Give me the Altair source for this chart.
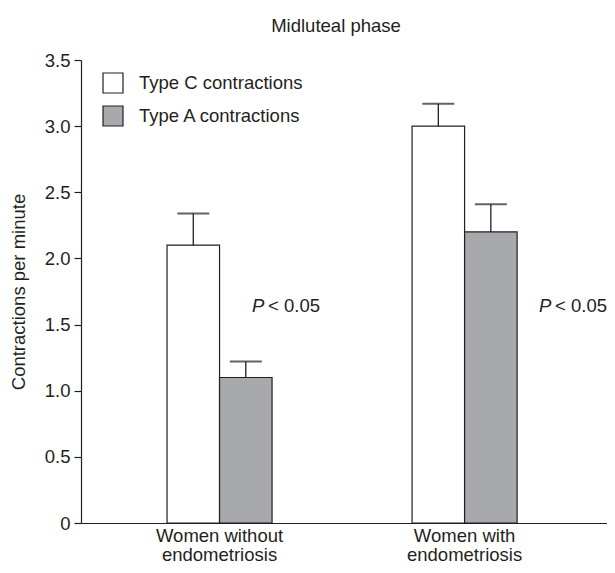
import altair as alt
import pandas as pd

groups = ["Women without endometriosis", "Women with endometriosis"]
types = ["Type C contractions", "Type A contractions"]
type_c_mean = [2.1, 3.0]
type_c_err = [0.24, 0.17]
type_a_mean = [1.1, 2.2]
type_a_err = [0.12, 0.21]
p_value_y = [1.64, 1.64]
p_value_text = "< 0.05"

FONT = "Liberation Sans"
INK = "#231f20"
GRAY = "#a7a9ac"
FS = 18.5

rows = []
for i, g in enumerate(groups):
    rows.append({"group": g, "type": types[0], "mean": type_c_mean[i], "top": type_c_mean[i] + type_c_err[i]})
    rows.append({"group": g, "type": types[1], "mean": type_a_mean[i], "top": type_a_mean[i] + type_a_err[i]})
df = pd.DataFrame(rows)

x_enc = alt.X(
    "group:N",
    sort=groups,
    title=None,
    scale=alt.Scale(domain=groups, paddingInner=0.5714, paddingOuter=0.359, align=0.489),
    axis=alt.Axis(
        ticks=False,
        domainColor=INK,
        domainWidth=1.2,
        labelAngle=0,
        labelFont=FONT,
        labelFontSize=FS,
        labelColor=INK,
        labelPadding=3,
        labelLineHeight=19.5,
        labelLimit=300,
        labelExpr="[replace(datum.label, ' endometriosis', ''), 'endometriosis']",
    ),
)
xo_enc = alt.XOffset("type:N", sort=types, scale=alt.Scale(domain=types, paddingInner=0, paddingOuter=0))
y_scale = alt.Scale(domain=[0, 3.5], nice=False)

bars = alt.Chart(df).mark_bar(stroke=INK, strokeWidth=1.2).encode(
    x=x_enc,
    xOffset=xo_enc,
    y=alt.Y(
        "mean:Q",
        scale=y_scale,
        title="Contractions per minute",
        axis=alt.Axis(
            values=[0, 0.5, 1, 1.5, 2, 2.5, 3, 3.5],
            grid=False,
            domainColor=INK,
            domainWidth=1.2,
            tickColor=INK,
            tickWidth=1.2,
            tickSize=7,
            labelFont=FONT,
            labelFontSize=FS,
            labelColor=INK,
            labelPadding=4,
            labelExpr="datum.value == 0 ? '0' : format(datum.value, '.1f')",
            titleFont=FONT,
            titleFontSize=FS,
            titleFontWeight="normal",
            titleColor=INK,
            titleX=-63,
            titleY=231.5,
            titleBaseline="middle",
            titleAngle=-90,
        ),
    ),
    fill=alt.Fill(
        "type:N",
        sort=types,
        scale=alt.Scale(domain=types, range=["white", GRAY]),
        legend=alt.Legend(
            title=None,
            orient="none",
            legendX=21,
            legendY=12,
            padding=0,
            symbolType="square",
            symbolSize=400,
            symbolStrokeColor=INK,
            symbolStrokeWidth=1.2,
            symbolOpacity=1,
            labelFont=FONT,
            labelFontSize=FS,
            labelColor=INK,
            labelOffset=15,
            labelLimit=300,
            rowPadding=7,
        ),
    ),
)

rules = alt.Chart(df).mark_rule(color=INK, strokeWidth=1.3).encode(
    x=x_enc, xOffset=xo_enc, y=alt.Y("mean:Q", scale=y_scale), y2="top:Q"
)
caps = alt.Chart(df).mark_tick(color=INK, thickness=2, size=32, orient="horizontal").encode(
    x=x_enc, xOffset=xo_enc, y=alt.Y("top:Q", scale=y_scale)
)

layers = [bars, rules, caps]
p_dx = [32.5, 74.5]
for i, g in enumerate(groups):
    pdf = pd.DataFrame({"group": [g], "y": [p_value_y[i]]})
    layers.append(
        alt.Chart(pdf).mark_text(text="P", font=FONT, fontSize=FS, fontStyle="italic", color=INK,
                                 align="left", baseline="middle", dx=p_dx[i]).encode(
            x=x_enc, y=alt.Y("y:Q", scale=y_scale)
        )
    )
    layers.append(
        alt.Chart(pdf).mark_text(text=p_value_text, font=FONT, fontSize=FS, color=INK,
                                 align="left", baseline="middle", dx=p_dx[i] + 16).encode(
            x=x_enc, y=alt.Y("y:Q", scale=y_scale)
        )
    )

chart = alt.layer(*layers).properties(
    width=526,
    height=463,
    title=alt.Title("Midluteal phase", font=FONT, fontSize=FS, fontWeight="normal", color=INK,
                    offset=1, dx=-8, baseline="alphabetic"),
    autosize=alt.AutoSizeParams(type="none"),
    padding={"left": 73, "top": 52, "right": 0, "bottom": 42},
).configure_view(stroke=None)

chart.save("out.html", embed_options={"renderer": "svg", "actions": False})
